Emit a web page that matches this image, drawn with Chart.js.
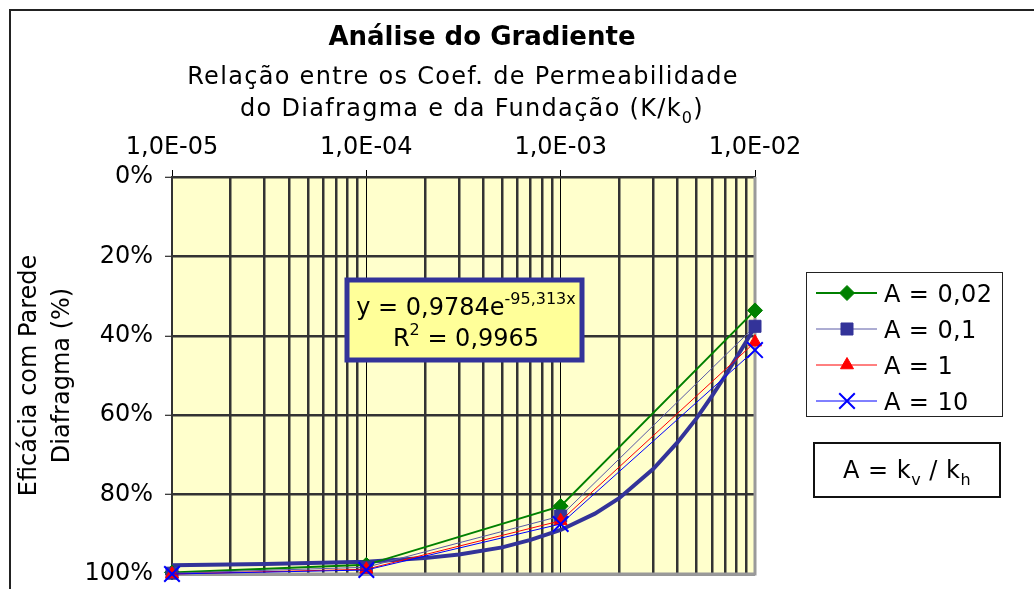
<!DOCTYPE html>
<html>
<head>
<meta charset="utf-8">
<script src="https://cdn.jsdelivr.net/npm/chart.js@4/dist/chart.umd.min.js"></script>
<style>
  html, body { margin: 0; padding: 0; background: #fff; }
  #wrap { width: 1034px; height: 589px; }
</style>
</head>
<body>
<div id="wrap"><canvas id="chart" width="1034" height="589"></canvas></div>
<script>
// data (efficacy in %, y axis reversed)
const xValues = [1e-5, 1e-4, 1e-3, 1e-2];
const seriesLabels = ['A = 0,02', 'A = 0,1', 'A = 1', 'A = 10'];
const effA002 = [99.6, 97.7, 82.9, 33.6];
const effA01 = [99.8, 98.3, 85.4, 37.6];
const effA1 = [100, 98.8, 86.6, 41.6];
const effA10 = [100, 99.0, 87.4, 43.6];

// exponential trendline, as traced on the chart
const trendX = [1e-5, 3e-5, 1e-4, 2e-4, 3e-4, 5e-4, 7e-4, 1e-3, 1.5e-3, 2e-3, 3e-3, 4e-3, 5e-3, 6e-3, 7e-3, 8e-3, 9e-3, 1e-2];
const trendY = [97.8, 97.5, 96.9, 96.0, 95.1, 93.3, 91.4, 88.9, 84.8, 80.9, 73.5, 66.8, 60.8, 55.2, 50.2, 45.6, 41.5, 37.7];

const decadeTicks = [1e-5, 1e-4, 1e-3, 1e-2];
const decadeLabels = ['1,0E-05', '1,0E-04', '1,0E-03', '1,0E-02'];
const minorSteps = [2, 3, 4, 5, 6, 7, 8, 9];
const yTickValues = [0, 20, 40, 60, 80, 100];

const FONT = '"DejaVu Sans", Verdana, sans-serif';

const styles = [
  { line: '#008000', point: '#008000', width: 2, shape: 'rectRot', r: 7.5 },
  { line: '#5a5aa6', point: '#333399', width: 1, shape: 'rect', r: 8.5 },
  { line: '#ff0000', point: '#ff0000', width: 1, shape: 'triangle', r: 7.5 },
  { line: '#0000ff', point: '#0000ff', width: 1, shape: 'crossRot', r: 11 }
];
const seriesValues = [effA002, effA01, effA1, effA10];

function pts(xs, ys) { return xs.map((x, i) => ({ x: x, y: ys[i] })); }

const datasets = seriesValues.map((vals, i) => ({
  label: seriesLabels[i],
  data: pts(xValues, vals),
  borderColor: styles[i].line,
  borderWidth: styles[i].width,
  pointStyle: styles[i].shape,
  pointRadius: styles[i].r,
  pointBackgroundColor: styles[i].point,
  pointBorderColor: styles[i].point,
  pointBorderWidth: styles[i].shape === 'crossRot' ? 2 : 1,
  clip: false,
  order: 3 - i
}));
datasets.push({
  label: 'trend',
  data: pts(trendX, trendY),
  borderColor: '#333399',
  borderWidth: 4,
  pointRadius: 0,
  order: 4
});

// rich text helper: parts = [[text, 'sub'|'sup'|''], ...]
function drawRich(ctx, parts, x, y, size, align, weight, spacing) {
  const small = Math.round(size * 0.65);
  const fontOf = k => `${weight || 'normal'} ${k ? small : size}px ${FONT}`;
  ctx.letterSpacing = (spacing || 0) + 'px';
  let total = 0;
  const widths = parts.map(([t, k]) => { ctx.font = fontOf(k); const w = ctx.measureText(t).width; total += w; return w; });
  let cx = align === 'center' ? x - total / 2 : x;
  ctx.textAlign = 'left';
  ctx.textBaseline = 'alphabetic';
  parts.forEach(([t, k], i) => {
    ctx.font = fontOf(k);
    const dy = k === 'sub' ? size * 0.3 : k === 'sup' ? -size * 0.45 : 0;
    ctx.fillText(t, cx, y + dy);
    cx += widths[i];
  });
  ctx.letterSpacing = '0px';
}

const decor = {
  id: 'decor',
  beforeDraw(chart) {
    const { ctx, chartArea: a } = chart;
    ctx.save();
    ctx.fillStyle = '#ffffcc';
    ctx.fillRect(a.left, a.top, a.right - a.left, a.bottom - a.top);
    // outer chart frame
    ctx.strokeStyle = '#222';
    ctx.lineWidth = 2;
    ctx.beginPath();
    ctx.moveTo(10, 589);
    ctx.lineTo(10, 10);
    ctx.lineTo(1034, 10);
    ctx.stroke();
    ctx.restore();
  },
  beforeDatasetsDraw(chart) {
    const { ctx, chartArea: a } = chart;
    ctx.save();
    ctx.strokeStyle = '#9a9a9a';
    ctx.lineWidth = 3;
    ctx.beginPath();
    ctx.moveTo(a.left, a.bottom);
    ctx.lineTo(a.right, a.bottom);
    ctx.lineTo(a.right, a.top);
    ctx.stroke();
    ctx.restore();
  },
  afterDraw(chart) {
    const { ctx } = chart;
    ctx.save();
    ctx.fillStyle = '#000';
    // titles
    drawRich(ctx, [['Análise do Gradiente', '']], 482, 45, 26, 'center', 'bold');
    drawRich(ctx, [['Relação entre os Coef. de Permeabilidade', '']], 463, 84, 24, 'center', 'normal', 1.3);
    drawRich(ctx, [['do Diafragma e da Fundação (K/k', ''], ['0', 'sub'], [')', '']], 472, 116, 24, 'center', 'normal', 1.3);

    // trendline equation box
    ctx.fillStyle = '#ffff99';
    ctx.fillRect(347, 280, 235, 80);
    ctx.strokeStyle = '#333399';
    ctx.lineWidth = 5;
    ctx.strokeRect(347, 280, 235, 80);
    ctx.fillStyle = '#000';
    drawRich(ctx, [['y = 0,9784e', ''], ['-95,313x', 'sup']], 466, 315, 24, 'center');
    drawRich(ctx, [['R', ''], ['2', 'sup'], [' = 0,9965', '']], 466, 346, 24, 'center');

    // legend
    ctx.fillStyle = '#fff';
    ctx.fillRect(806, 272, 196, 144);
    ctx.strokeStyle = '#222';
    ctx.lineWidth = 1;
    ctx.strokeRect(806.5, 272.5, 196, 144);
    const rows = [293, 329, 365, 401];
    styles.forEach((s, i) => {
      const y = rows[i];
      ctx.strokeStyle = s.line;
      ctx.lineWidth = s.width;
      ctx.beginPath();
      ctx.moveTo(816, y);
      ctx.lineTo(877, y);
      ctx.stroke();
      ctx.fillStyle = s.point;
      ctx.strokeStyle = s.point;
      ctx.lineWidth = s.shape === 'crossRot' ? 2 : 1;
      Chart.helpers.drawPoint(ctx, { pointStyle: s.shape, radius: s.r, borderWidth: ctx.lineWidth, rotation: 0 }, 847, y);
      ctx.fillStyle = '#000';
      drawRich(ctx, [[seriesLabels[i], '']], 884, y + 9, 24, 'left', 'normal', 0.4);
    });

    // A = kv / kh box
    ctx.fillStyle = '#fff';
    ctx.fillRect(814, 443, 186, 54);
    ctx.strokeStyle = '#111';
    ctx.lineWidth = 2;
    ctx.strokeRect(814, 443, 186, 54);
    ctx.fillStyle = '#000';
    drawRich(ctx, [['A = k', ''], ['v', 'sub'], [' / k', ''], ['h', 'sub']], 907, 478, 24, 'center', 'normal', 0.5);
    ctx.restore();
  }
};

const xTicks = [];
decadeTicks.forEach((d, i) => {
  xTicks.push({ value: d, major: true, label: decadeLabels[i] });
  if (i < decadeTicks.length - 1) minorSteps.forEach(m => xTicks.push({ value: m * d, major: false, label: '' }));
});

new Chart(document.getElementById('chart'), {
  type: 'line',
  data: { datasets: datasets },
  options: {
    responsive: false,
    animation: false,
    layout: { padding: { left: 0, top: 0, right: 279, bottom: 15 } },
    plugins: { legend: { display: false }, title: { display: false }, tooltip: { enabled: false } },
    elements: { line: { tension: 0 } },
    scales: {
      x: {
        type: 'logarithmic',
        position: 'top',
        min: 1e-5,
        max: 1e-2,
        afterBuildTicks: scale => { scale.ticks = xTicks.map(t => ({ value: t.value, major: t.major })); },
        afterFit: scale => {
          scale.height = 177;
          scale.paddingLeft = 0; scale.paddingRight = 0;
        },
        ticks: {
          autoSkip: false,
          maxRotation: 0,
          padding: 8,
          color: '#000',
          font: { family: FONT, size: 24 },
          callback: (v, i) => xTicks[i] ? xTicks[i].label : ''
        },
        grid: {
          drawTicks: true,
          tickLength: 7,
          color: c => (c.tick && c.tick.major) ? '#000' : '#333',
          lineWidth: c => (c.tick && c.tick.major) ? 1 : 2.5,
          tickColor: c => (c.tick && c.tick.major) ? '#000' : 'rgba(0,0,0,0)',
          tickWidth: 1
        },
        border: { display: true, color: '#333', width: 2 }
      },
      y: {
        reverse: true,
        min: 0,
        max: 100,
        afterBuildTicks: scale => { scale.ticks = yTickValues.map(v => ({ value: v })); },
        afterFit: scale => {
          scale.width = 172;
          scale.paddingTop = 0; scale.paddingBottom = 0;
        },
        ticks: {
          padding: 12,
          color: '#000',
          font: { family: FONT, size: 24 },
          callback: v => v + '%'
        },
        grid: {
          tickLength: 7,
          color: '#333',
          lineWidth: 2.5,
          tickColor: '#000',
          tickWidth: 1
        },
        border: { display: true, color: '#333', width: 2 },
        title: {
          display: true,
          text: ['Eficácia com Parede', 'Diafragma (%)'],
          color: '#000',
          font: { family: FONT, size: 24, lineHeight: 1.375 },
          padding: { top: 13.5, bottom: 0 }
        }
      }
    }
  },
  plugins: [decor]
});
</script>
</body>
</html>
